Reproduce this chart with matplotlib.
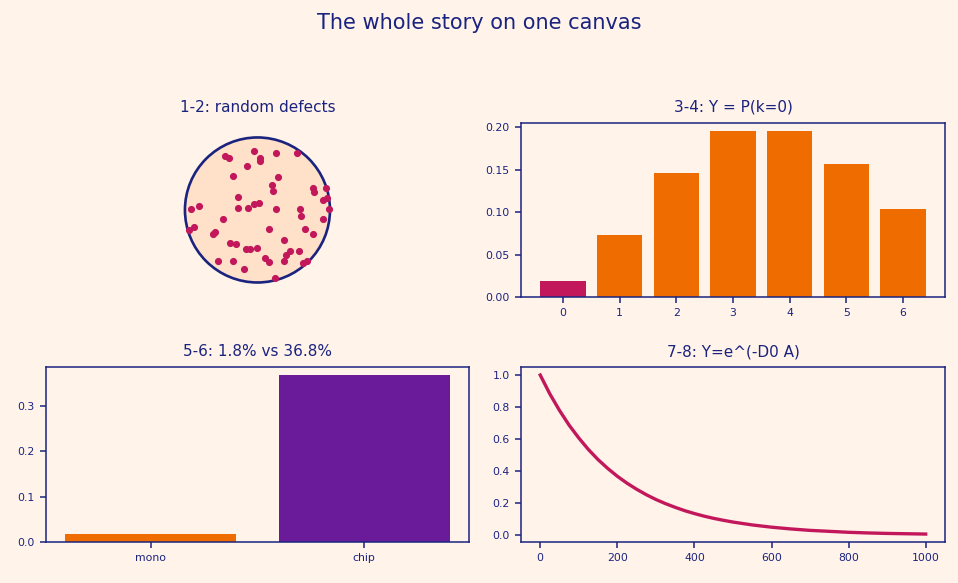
import matplotlib
matplotlib.use("Agg")
import matplotlib.pyplot as plt
from matplotlib.patches import Circle
from matplotlib.ticker import MultipleLocator

BG = "#fff3ea"
NAVY = "#1a237e"
CRIMSON = "#c2185b"
ORANGE = "#ef6c00"
PURPLE = "#6a1b9a"

# defect positions on the wafer (unit circle)
defect_x = [-0.45, -0.39, -0.05, 0.03, 0.04, 0.26, 0.54, -0.15, -0.34, 0.29,
            0.20, 0.22, -0.27, 0.76, 0.78, 0.95, 0.91, 0.96, 0.98, -0.91,
            -0.80, -0.27, -0.13, -0.05, 0.02, 0.26, 0.59, 0.60, 0.91, -0.48,
            -0.94, -0.87, -0.62, -0.58, 0.16, 0.65, 0.76, 0.36, -0.38, -0.30,
            -0.16, -0.10, 0.00, 0.45, 0.40, 0.57, 0.11, 0.16, 0.36, 0.63,
            0.68, -0.55, -0.34, -0.19, 0.24]
defect_y = [0.74, 0.72, 0.82, 0.72, 0.67, 0.78, 0.79, 0.61, 0.47, 0.46,
            0.35, 0.26, 0.18, 0.30, 0.25, 0.30, 0.14, 0.16, 0.01, 0.01,
            0.06, 0.03, 0.03, 0.08, 0.09, 0.01, 0.02, -0.08, -0.13, -0.13,
            -0.27, -0.24, -0.33, -0.30, -0.26, -0.26, -0.33, -0.42, -0.46, -0.47,
            -0.54, -0.54, -0.52, -0.56, -0.62, -0.57, -0.66, -0.72, -0.71, -0.73,
            -0.70, -0.70, -0.71, -0.82, -0.94]

k_values = [0, 1, 2, 3, 4, 5, 6]
poisson_p = [0.0183, 0.0733, 0.1465, 0.1954, 0.1954, 0.1563, 0.1042]

yield_labels = ["mono", "chip"]
yield_values = [0.018, 0.368]

area = [0, 25, 50, 75, 100, 125, 150, 175, 200, 225, 250, 275, 300, 325, 350,
        375, 400, 425, 450, 475, 500, 550, 600, 650, 700, 750, 800, 850, 900, 950, 1000]
yield_curve = [1.0, 0.882, 0.779, 0.687, 0.607, 0.535, 0.472, 0.417, 0.368, 0.325,
               0.287, 0.253, 0.223, 0.197, 0.174, 0.153, 0.135, 0.119, 0.105, 0.093,
               0.082, 0.064, 0.050, 0.039, 0.030, 0.024, 0.018, 0.014, 0.011, 0.009, 0.007]

plt.rcParams["font.family"] = ["DejaVu Sans"]
fig = plt.figure(figsize=(9.58, 5.83), dpi=100, facecolor=BG)
fig.suptitle("The whole story on one canvas", color=NAVY, fontsize=15, y=0.978)

def style(ax):
    ax.set_facecolor(BG)
    for s in ax.spines.values():
        s.set_color(NAVY)
        s.set_linewidth(1.1)
    ax.tick_params(colors=NAVY, labelsize=7.8, labelcolor=NAVY, length=4.5, width=1.1)

# 1-2: wafer with defects
ax1 = fig.add_axes([0.048, 0.4906, 0.4415, 0.2985])
ax1.set_facecolor(BG)
ax1.add_patch(Circle((0, 0), 1.0, facecolor="#ffe0c8", edgecolor=NAVY, lw=1.9))
ax1.scatter(defect_x, defect_y, s=17, color=CRIMSON, zorder=3)
ax1.set_xlim(-1.2, 1.2)
ax1.set_ylim(-1.2, 1.2)
ax1.set_aspect("equal")
ax1.axis("off")
ax1.set_title("1-2: random defects", color=NAVY, fontsize=11, pad=8)

# 3-4: Poisson distribution
ax2 = fig.add_axes([0.5438, 0.4906, 0.4426, 0.2985])
style(ax2)
colors = [CRIMSON] + [ORANGE] * (len(k_values) - 1)
ax2.bar(k_values, poisson_p, color=colors, width=0.8)
ax2.set_xticks(k_values)
ax2.yaxis.set_major_locator(MultipleLocator(0.05))
ax2.set_title("3-4: Y = P(k=0)", color=NAVY, fontsize=11, pad=8)

# 5-6: monolithic vs chiplet yield
ax3 = fig.add_axes([0.048, 0.0703, 0.4415, 0.300])
style(ax3)
ax3.bar(yield_labels, yield_values, color=[ORANGE, PURPLE], width=0.8)
ax3.yaxis.set_major_locator(MultipleLocator(0.1))
ax3.set_title("5-6: 1.8% vs 36.8%", color=NAVY, fontsize=11, pad=8)

# 7-8: yield vs area
ax4 = fig.add_axes([0.5438, 0.0703, 0.4426, 0.300])
style(ax4)
ax4.plot(area, yield_curve, color=CRIMSON, lw=2.4)
ax4.set_title("7-8: Y=e^(-D0 A)", color=NAVY, fontsize=11, pad=8)

fig.savefig("out.png", dpi=100, facecolor=BG)
